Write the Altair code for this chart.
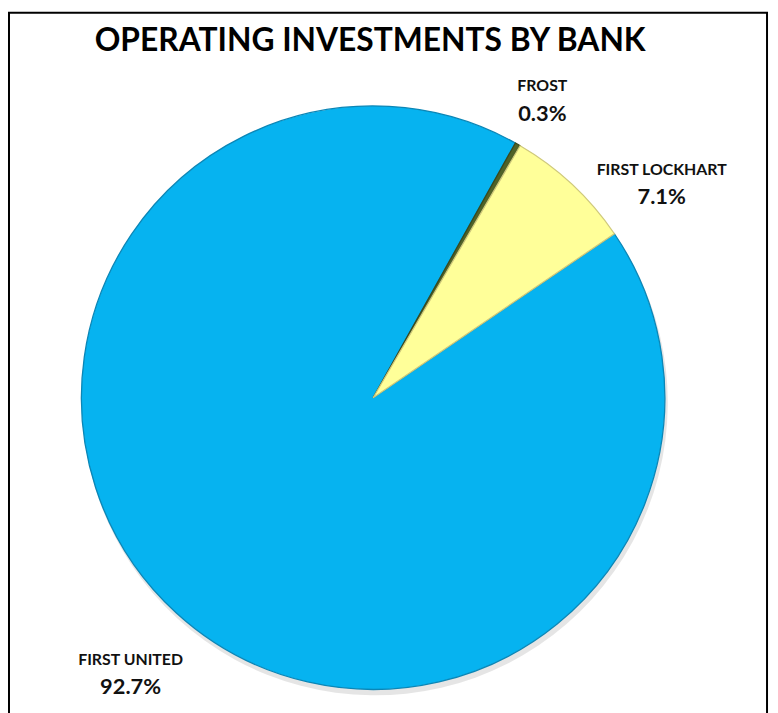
import math
import altair as alt
import pandas as pd

# ---- data ----
banks = ["FIRST UNITED", "FROST", "FIRST LOCKHART"]
shares = [92.7, 0.3, 7.1]
pct_labels = ["92.7%", "0.3%", "7.1%"]
colors = ["#06B3F0", "#4F6228", "#FFFF99"]
edge_colors = ["#0B86B6", "#3A4A1C", "#CFC97C"]
title_text = "OPERATING INVESTMENTS BY BANK"

df = pd.DataFrame({
    "bank": banks,
    "share": shares,
    "pct": pct_labels,
    "order": list(range(len(banks))),
})

# ---- layout ----
W, H = 768, 705
CX, CY, R = 368, 390, 294
LABEL_R = 350
FONT = "Lato"
start = math.radians(55.8)
total = sum(shares)
theta_scale = alt.Scale(domain=[0, total], range=[start, start + 2 * math.pi])
color_scale = alt.Scale(domain=banks, range=colors)
stroke_scale = alt.Scale(domain=banks, range=edge_colors)
# label nudges (dx, dy) per bank, layout only
nudges = {"FIRST UNITED": (-8, 20), "FROST": (-3, 4), "FIRST LOCKHART": (52, 40)}

base = alt.Chart(df)
theta = alt.Theta("share:Q", stack=True, scale=theta_scale)
order = alt.Order("order:Q")

shadow = base.mark_arc(radius=R + 1, color="#000000", opacity=0.10).encode(
    theta=theta, order=order, x=alt.value(CX + 2), y=alt.value(CY + 5)
)

pie = base.mark_arc(radius=R, strokeWidth=1.3).encode(
    theta=theta,
    order=order,
    color=alt.Color("bank:N", scale=color_scale, legend=None),
    stroke=alt.Stroke("bank:N", scale=stroke_scale, legend=None),
    x=alt.value(CX),
    y=alt.value(CY),
)

label_base = base.transform_window(
    cum="sum(share)", sort=[alt.SortField("order")]
).transform_calculate(mid="datum.cum - datum.share / 2")

label_layers = []
for b in banks:
    ox, oy = nudges[b]
    filt = label_base.transform_filter(alt.datum.bank == b)
    name = filt.mark_text(
        radius=LABEL_R, font=FONT, fontSize=16, fontWeight="bold",
        color="#111111", dx=ox, dy=oy - 14, align="center", baseline="middle",
    ).encode(
        theta=alt.Theta("mid:Q", scale=theta_scale, stack=None),
        text="bank:N", x=alt.value(CX), y=alt.value(CY),
    )
    pct = filt.mark_text(
        radius=LABEL_R, font=FONT, fontSize=22, fontWeight="bold",
        color="#111111", dx=ox, dy=oy + 14, align="center", baseline="middle",
    ).encode(
        theta=alt.Theta("mid:Q", scale=theta_scale, stack=None),
        text="pct:N", x=alt.value(CX), y=alt.value(CY),
    )
    label_layers += [name, pct]

title = alt.Chart(pd.DataFrame({"t": [title_text]})).mark_text(
    font=FONT, fontSize=32, fontWeight="bold", color="#000000",
    align="center", baseline="middle",
).encode(text="t:N", x=alt.value(365), y=alt.value(31))

border = alt.Chart(pd.DataFrame({"a": [0]})).mark_rect(
    filled=False, stroke="#000000", strokeWidth=2
).encode(x=alt.value(1), x2=alt.value(765), y=alt.value(2), y2=alt.value(H + 30))

chart = alt.layer(shadow, pie, *label_layers, title, border).properties(
    width=W, height=H, autosize=alt.AutoSizeParams(type="none"), padding=0,
    background="#ffffff",
).configure_view(strokeWidth=0)

chart.save("out.html", embed_options={"renderer": "svg", "actions": False})
